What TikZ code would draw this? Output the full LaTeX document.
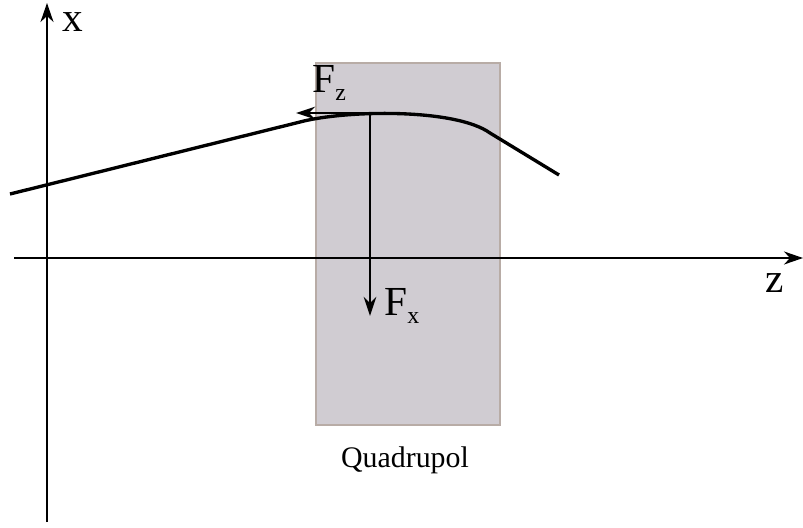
\documentclass[tikz,border=0pt]{standalone}
\usepackage{fontspec}
\setmainfont{Liberation Serif}
\usetikzlibrary{arrows.meta,positioning}

\definecolor{quadfill}{RGB}{208,204,210}
\definecolor{quadedge}{RGB}{184,172,166}
\newcommand{\lowsub}[1]{\raisebox{-5pt}{\fontsize{13.6}{15}\selectfont #1}}

\begin{document}
\begin{tikzpicture}[x=0.02cm,y=-0.02cm,
  axis/.style={line width=1.2pt,-{Stealth[length=3.8mm,width=2.6mm,inset=1.2mm]}},
  force/.style={line width=1.6pt,-{Stealth[length=3.8mm,width=2.5mm,inset=1.2mm]}},
  biglabel/.style={font=\fontsize{23.5}{28}\selectfont,anchor=base west,inner sep=0pt}]
\useasboundingbox (0,0) rectangle (803,527);

% quadrupole
\node (quad) [draw=quadedge,fill=quadfill,line width=0.9pt,minimum width=3.68cm,minimum height=7.24cm,inner sep=0pt] at (408,244) {};
\node (quadlabel) [anchor=base,font=\fontsize{17}{20}\selectfont] at (405,467) {Quadrupol};

% axes
\coordinate (xbot) at (47,522);
\coordinate (xtop) at (47,3);
\coordinate (zleft) at (14,258);
\coordinate (zright) at (803,258);
\draw[axis] (xbot) -- (xtop);
\draw[axis] (zleft) -- (zright);
\node (xlabel) [biglabel] at (62,32) {x};
\node (zlabel) [biglabel] at (765,292) {z};

% trajectory
\coordinate (P) at (370,113);
\draw[line width=1.9pt] (10,194) -- (300,122) .. controls (345,110) and (455,108) .. (490,133) -- (559,175);

% forces
\coordinate (Fzend) at (296,113);
\coordinate (Fxend) at (370,316);
\draw[force] (P) -- (Fzend);
\draw[force] (P) -- (Fxend);
\node (Fzlabel) [biglabel] at (312,92) {F\lowsub{z}};
\node (Fxlabel) [biglabel] at (384,315) {F\lowsub{x}};
\end{tikzpicture}
\end{document}
